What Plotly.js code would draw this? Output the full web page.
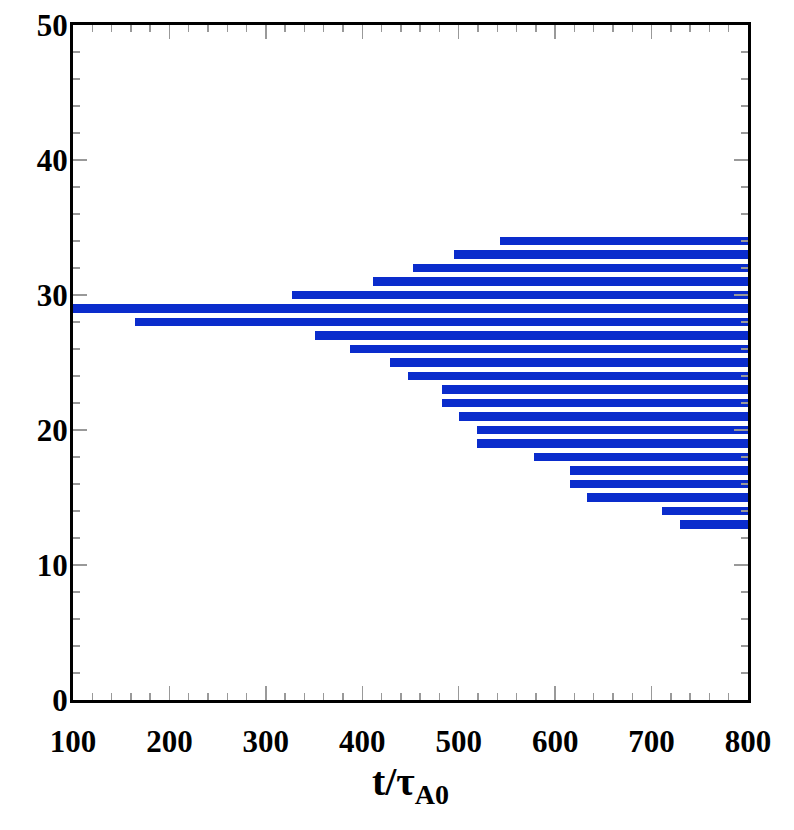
<!DOCTYPE html>
<html>
<head>
<meta charset="utf-8">
<script src="https://cdn.plot.ly/plotly-3.0.1.min.js"></script>
<style>html,body{margin:0;padding:0;background:#fff;}#chart{width:794px;height:830px;}</style>
</head>
<body>
<div id="chart"></div>
<script>
// Mode index (y) and onset time (x start) of each horizontal bar; all bars run to t = 800
const modeIndex = [34, 33, 32, 31, 30, 29, 28, 27, 26, 25, 24, 23, 22, 21, 20, 19, 18, 17, 16, 15, 14, 13];
const onsetTime = [543, 495, 453, 411, 327, 95, 164, 351, 387, 429, 447, 483, 483, 500, 519, 519, 578, 615, 615, 633, 711, 729];
const endTime = 800;
const xTickVals = [100, 200, 300, 400, 500, 600, 700, 800];
const yTickVals = [0, 10, 20, 30, 40, 50];

const lengths = onsetTime.map(s => endTime - s);

const trace = {
  type: 'bar',
  orientation: 'h',
  y: modeIndex,
  x: lengths,
  base: onsetTime,
  width: 0.6,
  marker: {color: '#0a2ccc', line: {width: 0}},
  hoverinfo: 'skip',
  cliponaxis: true
};

const fontFam = '"Liberation Serif", "Times New Roman", serif';
const axisCommon = {
  showgrid: false,
  zeroline: false,
  showline: true,
  linecolor: '#000',
  linewidth: 3,
  mirror: 'allticks',
  ticks: 'inside',
  ticklen: 14,
  tickwidth: 1.5,
  tickcolor: '#999',
  tickfont: {family: fontFam, size: 31, color: '#000', weight: 'bold'},
  fixedrange: true
};

const layout = {
  width: 794,
  height: 830,
  margin: {l: 73, r: 46, t: 25, b: 130},
  paper_bgcolor: '#fff',
  plot_bgcolor: '#fff',
  showlegend: false,
  bargap: 0,
  xaxis: Object.assign({}, axisCommon, {
    range: [100, 800],
    tickvals: xTickVals,
    ticktext: xTickVals.map(String),
    ticklabelstandoff: 12,
    minor: {dtick: 20, tick0: 100, ticks: 'inside', ticklen: 7, tickcolor: '#999', tickwidth: 1.5},
    title: {text: '<b>t/τ<sub>A0</sub></b>', font: {family: fontFam, size: 40, color: '#000'}, standoff: 0}
  }),
  yaxis: Object.assign({}, axisCommon, {
    range: [0, 50],
    tickvals: yTickVals,
    ticktext: yTickVals.map(String),
    ticklabelstandoff: -4,
    minor: {dtick: 2, tick0: 0, ticks: 'inside', ticklen: 7, tickcolor: '#999', tickwidth: 1.5}
  })
};

Plotly.newPlot('chart', [trace], layout, {displayModeBar: false, staticPlot: true});
</script>
</body>
</html>
